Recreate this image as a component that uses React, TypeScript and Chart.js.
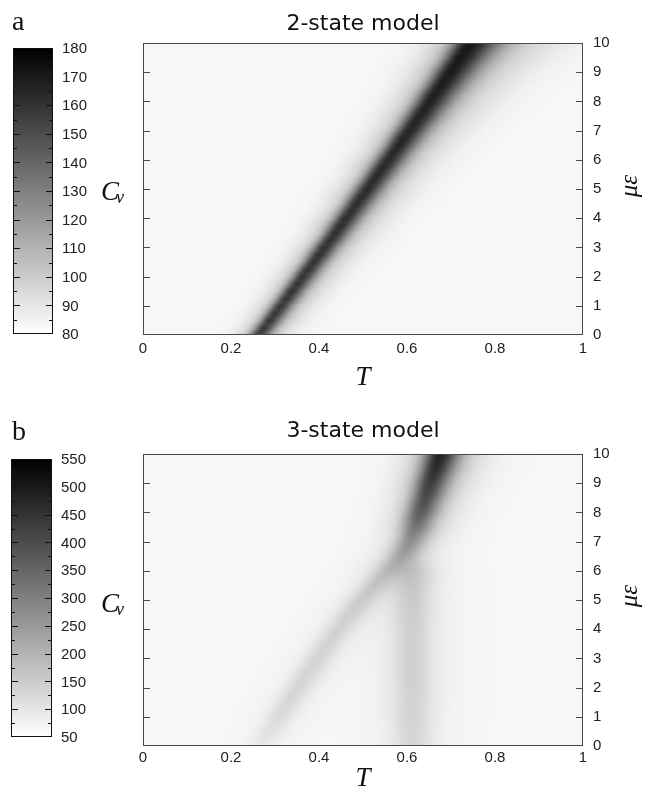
import React, { useEffect, useRef } from "react";
import { Chart, registerables } from "chart.js";
Chart.register(...registerables);

// ---- grid rows (mu) ----
const MU_ROWS = [0,0.25,0.5,0.75,1,1.25,1.5,1.75,2,2.25,2.5,2.75,3,3.25,3.5,3.75,4,4.25,4.5,4.75,5,5.25,5.5,5.75,6,6.25,6.5,6.75,7,7.25,7.5,7.75,8,8.25,8.5,8.75,9,9.25,9.5,9.75,10];
const T_STEP = 0.005;
const X_TICKS = [0, 0.2, 0.4, 0.6, 0.8, 1];
const Y_TICKS = [0, 1, 2, 3, 4, 5, 6, 7, 8, 9, 10];

// ---- panel a: 2-state model ----
const A_CB_TICKS = [80, 90, 100, 110, 120, 130, 140, 150, 160, 170, 180];
const A_BASE = 83;
const A_CENTER = [0.262,0.274,0.287,0.300,0.312,0.325,0.337,0.350,0.362,0.374,0.387,0.399,0.411,0.424,0.436,0.448,0.460,0.472,0.484,0.496,0.508,0.520,0.532,0.544,0.556,0.568,0.580,0.591,0.603,0.615,0.627,0.638,0.650,0.661,0.673,0.684,0.696,0.707,0.719,0.730,0.742];
const A_PEAK = [160,160,160,160,160,160,161,161,161,161,161,162,162,162,162,163,163,163,163,164,164,164,165,165,165,165,166,166,166,167,167,167,168,168,169,169,170,170,171,171,172];
const A_SL = [0.013,0.013,0.013,0.014,0.014,0.014,0.014,0.015,0.015,0.015,0.015,0.016,0.016,0.016,0.016,0.017,0.017,0.017,0.017,0.018,0.018,0.018,0.018,0.019,0.019,0.019,0.019,0.020,0.020,0.020,0.021,0.021,0.021,0.022,0.022,0.022,0.023,0.023,0.023,0.024,0.024];
const A_SR = [0.018,0.018,0.019,0.019,0.019,0.020,0.020,0.020,0.021,0.021,0.021,0.022,0.022,0.023,0.023,0.024,0.024,0.025,0.025,0.026,0.026,0.026,0.027,0.027,0.028,0.028,0.029,0.030,0.031,0.032,0.033,0.034,0.035,0.036,0.037,0.039,0.040,0.042,0.044,0.046,0.048];

// ---- panel b: 3-state model ----
const B_CB_TICKS = [50, 100, 150, 200, 250, 300, 350, 400, 450, 500, 550];
const B_BASE = 66;
const B_CENTER = [0.268,0.278,0.287,0.297,0.307,0.318,0.328,0.339,0.350,0.361,0.372,0.384,0.395,0.407,0.418,0.430,0.442,0.455,0.468,0.481,0.494,0.509,0.524,0.539,0.555,0.570,0.585,0.597,0.606,0.613,0.619,0.624,0.630,0.635,0.641,0.646,0.652,0.658,0.664,0.669,0.675];
const B_PEAK = [95,103,110,116,121,125,128,130,132,133,134,135,135,136,137,138,139,140,142,144,147,151,156,160,165,180,205,235,265,292,320,345,370,385,400,415,430,445,460,475,490];
const B_SL = [0.017,0.017,0.017,0.017,0.018,0.018,0.018,0.018,0.018,0.018,0.019,0.019,0.019,0.019,0.019,0.019,0.019,0.019,0.020,0.020,0.020,0.020,0.020,0.020,0.021,0.021,0.021,0.021,0.021,0.021,0.022,0.022,0.022,0.022,0.022,0.022,0.023,0.023,0.023,0.023,0.023];
const B_SR = [0.022,0.022,0.022,0.022,0.023,0.023,0.023,0.023,0.023,0.023,0.024,0.024,0.024,0.024,0.024,0.024,0.024,0.024,0.025,0.025,0.025,0.025,0.025,0.025,0.026,0.026,0.026,0.026,0.027,0.027,0.027,0.027,0.028,0.028,0.028,0.029,0.029,0.029,0.030,0.030,0.030];
const B_BAND_CENTER = 0.612;
const B_BAND_WIDTH = 0.03;
const B_BAND = [128,130,132,134,136,137,138,139,140,140,141,141,142,142,143,143,144,145,146,148,150,152,155,157,155,130,105,85,70,66,66,66,66,66,66,66,66,66,66,66,66];

type Panel = {
  letter: string; title: string; vmin: number; vmax: number; cbTicks: number[];
  base: number; center: number[]; peak: number[]; sl: number[]; sr: number[];
  halo: number; haloScale: number;
  band?: number[]; bandCenter?: number; bandWidth?: number;
  height: number; padTop: number; tickPad: number;
  cb: { l: number; r: number; t: number; b: number };
  titleY: number; cvY: number; tY: number; muY: number;
};

const PANELS: Panel[] = [
  {
    letter: "a", title: "2-state model", vmin: 80, vmax: 180, cbTicks: A_CB_TICKS,
    base: A_BASE, center: A_CENTER, peak: A_PEAK, sl: A_SL, sr: A_SR,
    halo: 0.3, haloScale: 2.5,
    height: 397, padTop: 43, tickPad: 5,
    cb: { l: 13, r: 53, t: 48, b: 334 },
    titleY: 30, cvY: 200, tY: 385, muY: 186,
  },
  {
    letter: "b", title: "3-state model", vmin: 50, vmax: 550, cbTicks: B_CB_TICKS,
    base: B_BASE, center: B_CENTER, peak: B_PEAK, sl: B_SL, sr: B_SR,
    halo: 0.3, haloScale: 2.2,
    band: B_BAND, bandCenter: B_BAND_CENTER, bandWidth: B_BAND_WIDTH,
    height: 384, padTop: 44, tickPad: 3,
    cb: { l: 11, r: 52, t: 49, b: 327 },
    titleY: 27, cvY: 202, tY: 376, muY: 186,
  },
];

function profile(z: number, h: number, k: number) {
  return (1 - h) * Math.exp(-0.5 * z * z) + h * Math.exp(-0.5 * (z / k) * (z / k));
}

function cellValue(p: Panel, i: number, T: number) {
  let v = p.base;
  const d = T - p.center[i];
  const s = d < 0 ? p.sl[i] : p.sr[i];
  v += (p.peak[i] - p.base) * profile(d / s, p.halo, p.haloScale);
  if (p.band && p.bandCenter !== undefined && p.bandWidth) {
    const db = (T - p.bandCenter) / p.bandWidth;
    v += (p.band[i] - p.base) * profile(db, p.halo, p.haloScale);
  }
  return v;
}

function grayOf(p: Panel, v: number) {
  const f = (v - p.vmin) / (p.vmax - p.vmin);
  return Math.max(0, Math.min(255, Math.round(255 * (1 - f))));
}

function makePlugin(p: Panel) {
  return {
    id: "heat_" + p.letter,
    beforeDatasetsDraw(chart: any) {
      const { ctx, chartArea, scales } = chart;
      const x = scales.x, y = scales.y;
      const nT = Math.round(1 / T_STEP) + 1;
      const nR = MU_ROWS.length;
      const off = document.createElement("canvas");
      off.width = nT; off.height = nR;
      const octx = off.getContext("2d")!;
      const img = octx.createImageData(nT, nR);
      for (let r = 0; r < nR; r++) {
        const i = nR - 1 - r;
        for (let c = 0; c < nT; c++) {
          const g = grayOf(p, cellValue(p, i, c * T_STEP));
          const k = (r * nT + c) * 4;
          img.data[k] = g; img.data[k + 1] = g; img.data[k + 2] = g; img.data[k + 3] = 255;
        }
      }
      octx.putImageData(img, 0, 0);
      const dMu = (MU_ROWS[1] - MU_ROWS[0]) / 2;
      const xl = x.getPixelForValue(-T_STEP / 2), xr = x.getPixelForValue(1 + T_STEP / 2);
      const yt = y.getPixelForValue(MU_ROWS[nR - 1] + dMu), yb = y.getPixelForValue(MU_ROWS[0] - dMu);
      ctx.save();
      ctx.beginPath();
      ctx.rect(chartArea.left, chartArea.top, chartArea.right - chartArea.left, chartArea.bottom - chartArea.top);
      ctx.clip();
      ctx.imageSmoothingEnabled = true;
      ctx.drawImage(off, xl, yt, xr - xl, yb - yt);
      ctx.restore();
    },
    afterDraw(chart: any) {
      const { ctx, chartArea, scales } = chart;
      const y = scales.y;
      ctx.save();
      // frame
      ctx.strokeStyle = "#4a4a4a";
      ctx.lineWidth = 1;
      ctx.strokeRect(chartArea.left + 0.5, chartArea.top + 0.5, chartArea.right - chartArea.left - 1, chartArea.bottom - chartArea.top - 1);
      // inward y ticks on both sides
      ctx.beginPath();
      Y_TICKS.slice(1, -1).forEach((t) => {
        const py = Math.round(y.getPixelForValue(t)) + 0.5;
        ctx.moveTo(chartArea.left, py); ctx.lineTo(chartArea.left + 7, py);
        ctx.moveTo(chartArea.right, py); ctx.lineTo(chartArea.right - 7, py);
      });
      ctx.stroke();

      // colorbar
      const cb = p.cb;
      const grad = ctx.createLinearGradient(0, cb.b, 0, cb.t);
      grad.addColorStop(0, "rgb(255,255,255)");
      grad.addColorStop(1, "rgb(0,0,0)");
      ctx.fillStyle = grad;
      ctx.fillRect(cb.l, cb.t, cb.r - cb.l, cb.b - cb.t);
      ctx.strokeStyle = "#111";
      ctx.strokeRect(cb.l + 0.5, cb.t + 0.5, cb.r - cb.l - 1, cb.b - cb.t - 1);
      const toPy = (v: number) => cb.b - ((v - p.vmin) / (p.vmax - p.vmin)) * (cb.b - cb.t);
      ctx.beginPath();
      const step = p.cbTicks[1] - p.cbTicks[0];
      p.cbTicks.forEach((t, idx) => {
        const py = Math.round(toPy(t)) + 0.5;
        if (idx > 0 && idx < p.cbTicks.length - 1) {
          ctx.moveTo(cb.l, py); ctx.lineTo(cb.l + 7, py);
          ctx.moveTo(cb.r, py); ctx.lineTo(cb.r - 7, py);
        }
        if (idx < p.cbTicks.length - 1) {
          const pm = Math.round(toPy(t + step / 2)) + 0.5;
          ctx.moveTo(cb.l, pm); ctx.lineTo(cb.l + 4, pm);
          ctx.moveTo(cb.r, pm); ctx.lineTo(cb.r - 4, pm);
        }
      });
      ctx.stroke();
      ctx.fillStyle = "#222";
      ctx.font = "15px 'Liberation Sans', Arial, sans-serif";
      ctx.textAlign = "left";
      ctx.textBaseline = "middle";
      p.cbTicks.forEach((t) => ctx.fillText(String(t), cb.r + 9, toPy(t) + 1));

      // panel letter
      ctx.fillStyle = "#111";
      ctx.textBaseline = "alphabetic";
      ctx.font = "28px 'Liberation Serif', serif";
      ctx.fillText(p.letter, 12, 30);

      // title
      ctx.textAlign = "center";
      ctx.font = "22px 'DejaVu Sans', sans-serif";
      ctx.fillText(p.title, (chartArea.left + chartArea.right) / 2, p.titleY);

      // C_v
      ctx.textAlign = "left";
      ctx.font = "italic 27px 'Liberation Serif', serif";
      ctx.fillText("C", 101, p.cvY);
      ctx.font = "italic 18px 'Liberation Serif', serif";
      ctx.fillText("v", 116, p.cvY + 3);

      // T
      ctx.textAlign = "center";
      ctx.font = "italic 27px 'Liberation Serif', serif";
      ctx.fillText("T", (chartArea.left + chartArea.right) / 2, p.tY);

      // με (rotated)
      ctx.translate(630, p.muY);
      ctx.rotate(-Math.PI / 2);
      ctx.textBaseline = "middle";
      ctx.font = "italic 25px 'Liberation Serif', serif";
      ctx.fillText("με", 0, 0);
      ctx.restore();
    },
  };
}

function PanelChart({ p, top }: { p: Panel; top: number }) {
  const ref = useRef<HTMLCanvasElement>(null);
  useEffect(() => {
    const canvas = ref.current!;
    const chart = new Chart(canvas, {
      type: "scatter",
      data: { datasets: [{ data: [], pointRadius: 0 }] },
      options: {
        animation: false,
        responsive: false,
        devicePixelRatio: 1,
        layout: { padding: { left: 143, top: p.padTop, right: 0, bottom: 0 } },
        plugins: { legend: { display: false }, title: { display: false }, tooltip: { enabled: false } },
        scales: {
          x: {
            type: "linear", min: 0, max: 1,
            afterFit: (s: any) => { s.height = p.height - (p.padTop + 292); },
            afterBuildTicks: (s: any) => { s.ticks = X_TICKS.map((v) => ({ value: v })); },
            grid: { display: false, drawTicks: false },
            border: { display: false },
            ticks: {
              padding: p.tickPad, color: "#222", maxRotation: 0, autoSkip: false,
              font: { family: "'Liberation Sans', Arial, sans-serif", size: 15 },
              callback: (v: any) => String(Number(v)),
            },
          },
          y: {
            type: "linear", position: "right", min: 0, max: 10,
            afterFit: (s: any) => { s.width = 67; },
            afterBuildTicks: (s: any) => { s.ticks = Y_TICKS.map((v) => ({ value: v })); },
            grid: { display: false, drawTicks: false },
            border: { display: false },
            ticks: {
              padding: 10, color: "#222", autoSkip: false,
              font: { family: "'Liberation Sans', Arial, sans-serif", size: 15 },
              callback: (v: any) => String(Number(v)),
            },
          },
        },
      } as any,
      plugins: [makePlugin(p)],
    });
    return () => chart.destroy();
  }, [p]);
  return (
    <canvas
      ref={ref}
      width={650}
      height={p.height}
      style={{ position: "absolute", left: 0, top, width: 650, height: p.height }}
    />
  );
}

export default function App() {
  return (
    <div style={{ position: "absolute", left: 0, top: 0, width: 650, height: 794, background: "#fff" }}>
      <PanelChart p={PANELS[0]} top={0} />
      <PanelChart p={PANELS[1]} top={410} />
    </div>
  );
}
